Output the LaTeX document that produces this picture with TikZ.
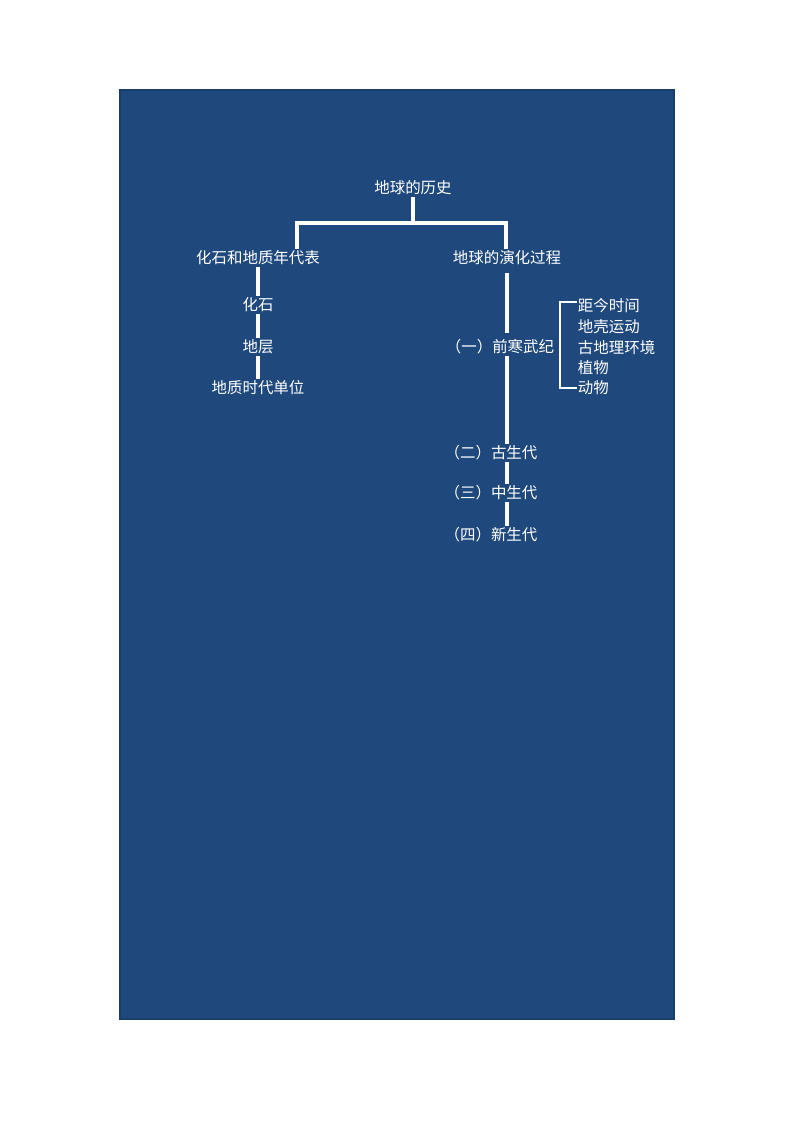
\documentclass[tikz,border=0pt]{standalone}
\usepackage{fontspec}
\newfontfamily\cjk{Noto Sans CJK SC}
\usepackage{tikz}
\usetikzlibrary{positioning}
\definecolor{bgblue}{HTML}{1F497D}

\begin{document}
\begin{tikzpicture}[x=0.75pt, y=-0.75pt, line join=miter]
    \tikzstyle{node_style} = [text=white, inner sep=1pt, font=\cjk\fontsize{11.6}{14}\selectfont]
    \tikzstyle{item_style} = [node_style, anchor=west, inner sep=0.5pt]
    \tikzstyle{edge_style} = [draw=white, line width=2.5pt]
    \tikzstyle{brace_style} = [draw=white, line width=1.4pt]
    \useasboundingbox (0,0) rectangle (794,1122);
    \fill[bgblue, draw=bgblue!85!black, line width=0.8pt] (120,90) rectangle (674,1019);

    \node[node_style] (root) at (413,188) {地球的历史};
    \node[node_style] (table) at (258,258) {化石和地质年代表};
    \node[node_style] (evolution) at (507,258) {地球的演化过程};

    \node[node_style] (fossil) at (258,305) {化石};
    \node[node_style] (stratum) at (258,347) {地层};
    \node[node_style] (unit) at (258,388) {地质时代单位};

    \node[node_style] (precam) at (500,347) {（一）前寒武纪};
    \node[node_style] (paleo) at (491,453) {（二）古生代};
    \node[node_style] (meso) at (491,493) {（三）中生代};
    \node[node_style] (ceno) at (491,535) {（四）新生代};

    \node[item_style] (time) at (577,306) {距今时间};
    \node[item_style] (crust) at (577,327) {地壳运动};
    \node[item_style] (geo) at (577,348) {古地理环境};
    \node[item_style] (plant) at (577,368) {植物};
    \node[item_style] (animal) at (577,388) {动物};

    \coordinate (bar) at (413,223);
    \coordinate (bar_left) at (297,223);
    \coordinate (bar_right) at (506,223);

    \draw[edge_style]  (root) -- (bar);
    \draw[edge_style]  (bar_left |- table.north) -- (bar_left) -- (bar_right) -- (bar_right |- evolution.north);

    \draw[edge_style]  (table) -- (fossil);
    \draw[edge_style]  (fossil) -- (stratum);
    \draw[edge_style]  (stratum) -- (unit);

    \draw[edge_style]  ([yshift=-5pt]evolution.south) -- ([yshift=4pt]evolution.south |- precam.north);
    \draw[edge_style]  (precam.south -| evolution.south) -- (evolution.south |- paleo.north);
    \draw[edge_style]  (paleo.south -| evolution.south) -- (evolution.south |- meso.north);
    \draw[edge_style]  (meso.south -| evolution.south) -- (evolution.south |- ceno.north);

    \draw[brace_style] ([yshift=3pt]time.west) -| ([xshift=-13pt]animal.west) -- (animal.west);
\end{tikzpicture}
\end{document}
